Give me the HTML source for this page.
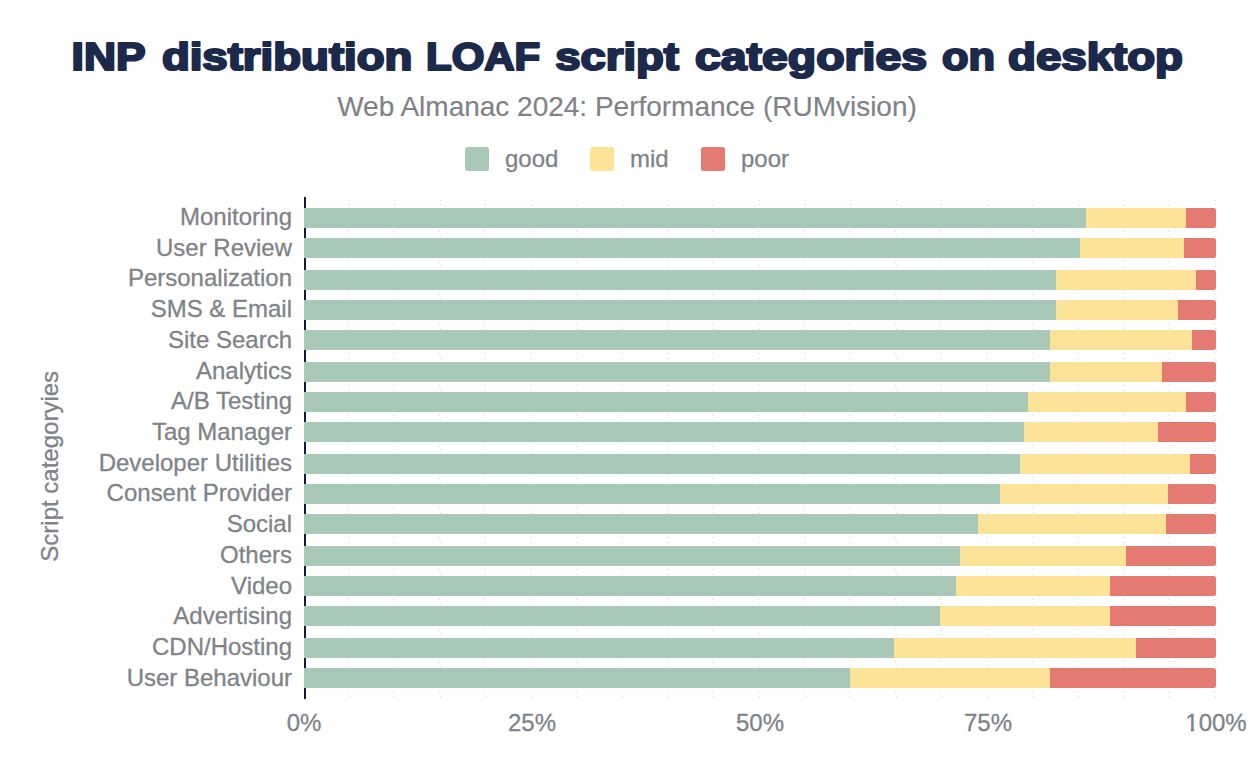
<!DOCTYPE html>
<html><head><meta charset="utf-8"><style>
html,body{margin:0;padding:0;background:#fff;}
body{width:1254px;height:774px;overflow:hidden;}
svg{display:block;font-family:"Liberation Sans",sans-serif;}
</style></head><body>
<svg width="1254" height="774" viewBox="0 0 1254 774">
<rect width="1254" height="774" fill="#fff"/>

<g font-size="38.5" font-weight="bold" fill="#1b2a4a" stroke="#1b2a4a" stroke-width="2.2" stroke-linejoin="round"><text x="71.60" y="70.4" textLength="73.90" lengthAdjust="spacingAndGlyphs">INP</text><text x="161.90" y="70.4" textLength="250.50" lengthAdjust="spacingAndGlyphs">distribution</text><text x="426.00" y="70.4" textLength="114.20" lengthAdjust="spacingAndGlyphs">LOAF</text><text x="555.20" y="70.4" textLength="123.80" lengthAdjust="spacingAndGlyphs">script</text><text x="695.00" y="70.4" textLength="232.00" lengthAdjust="spacingAndGlyphs">categories</text><text x="942.00" y="70.4" textLength="53.00" lengthAdjust="spacingAndGlyphs">on</text><text x="1008.00" y="70.4" textLength="175.00" lengthAdjust="spacingAndGlyphs">desktop</text></g>
<text transform="translate(627.00,115.60) scale(1,1.02)" text-anchor="middle" font-size="28" fill="#7f8387" stroke="#7f8387" stroke-width="0.15">Web Almanac 2024: Performance (RUMvision)</text>
<rect x="465" y="147" width="24" height="24" rx="2.5" fill="#a8c9b8"/>
<text transform="translate(505.00,167.00) scale(1,1.02)" text-anchor="start" font-size="24" fill="#7f8387" stroke="#7f8387" stroke-width="0.3">good</text>
<rect x="590" y="147" width="24" height="24" rx="2.5" fill="#fde398"/>
<text transform="translate(630.00,167.00) scale(1,1.02)" text-anchor="start" font-size="24" fill="#7f8387" stroke="#7f8387" stroke-width="0.3">mid</text>
<rect x="701" y="147" width="24" height="24" rx="2.5" fill="#e57a72"/>
<text transform="translate(741.00,167.00) scale(1,1.02)" text-anchor="start" font-size="24" fill="#7f8387" stroke="#7f8387" stroke-width="0.3">poor</text>
<path fill="#d6d7da" d="M349 200h1v1h-1zM349 204h1v1h-1zM348 231h1v1h-1zM349 236h1v1h-1zM348 261h1v1h-1zM349 266h1v1h-1zM348 293h1v1h-1zM349 298h1v1h-1zM348 323h1v1h-1zM349 328h1v1h-1zM348 353h1v1h-1zM349 358h1v1h-1zM348 385h1v1h-1zM349 390h1v1h-1zM348 415h1v1h-1zM349 420h1v1h-1zM348 445h1v1h-1zM349 450h1v1h-1zM348 477h1v1h-1zM349 482h1v1h-1zM348 507h1v1h-1zM349 512h1v1h-1zM348 537h1v1h-1zM349 542h1v1h-1zM348 569h1v1h-1zM349 574h1v1h-1zM348 599h1v1h-1zM349 604h1v1h-1zM348 629h1v1h-1zM349 634h1v1h-1zM348 661h1v1h-1zM349 666h1v1h-1zM348 691h1v1h-1zM349 696h1v1h-1zM394 200h1v1h-1zM394 204h1v1h-1zM393 231h1v1h-1zM394 236h1v1h-1zM393 261h1v1h-1zM394 266h1v1h-1zM393 293h1v1h-1zM394 298h1v1h-1zM393 323h1v1h-1zM394 328h1v1h-1zM393 353h1v1h-1zM394 358h1v1h-1zM393 385h1v1h-1zM394 390h1v1h-1zM393 415h1v1h-1zM394 420h1v1h-1zM393 445h1v1h-1zM394 450h1v1h-1zM393 477h1v1h-1zM394 482h1v1h-1zM393 507h1v1h-1zM394 512h1v1h-1zM393 537h1v1h-1zM394 542h1v1h-1zM393 569h1v1h-1zM394 574h1v1h-1zM393 599h1v1h-1zM394 604h1v1h-1zM393 629h1v1h-1zM394 634h1v1h-1zM393 661h1v1h-1zM394 666h1v1h-1zM393 691h1v1h-1zM394 696h1v1h-1zM440 200h1v1h-1zM440 204h1v1h-1zM439 231h1v1h-1zM440 236h1v1h-1zM439 261h1v1h-1zM440 266h1v1h-1zM439 293h1v1h-1zM440 298h1v1h-1zM439 323h1v1h-1zM440 328h1v1h-1zM439 353h1v1h-1zM440 358h1v1h-1zM439 385h1v1h-1zM440 390h1v1h-1zM439 415h1v1h-1zM440 420h1v1h-1zM439 445h1v1h-1zM440 450h1v1h-1zM439 477h1v1h-1zM440 482h1v1h-1zM439 507h1v1h-1zM440 512h1v1h-1zM439 537h1v1h-1zM440 542h1v1h-1zM439 569h1v1h-1zM440 574h1v1h-1zM439 599h1v1h-1zM440 604h1v1h-1zM439 629h1v1h-1zM440 634h1v1h-1zM439 661h1v1h-1zM440 666h1v1h-1zM439 691h1v1h-1zM440 696h1v1h-1zM485 200h1v1h-1zM485 204h1v1h-1zM484 231h1v1h-1zM485 236h1v1h-1zM484 261h1v1h-1zM485 266h1v1h-1zM484 293h1v1h-1zM485 298h1v1h-1zM484 323h1v1h-1zM485 328h1v1h-1zM484 353h1v1h-1zM485 358h1v1h-1zM484 385h1v1h-1zM485 390h1v1h-1zM484 415h1v1h-1zM485 420h1v1h-1zM484 445h1v1h-1zM485 450h1v1h-1zM484 477h1v1h-1zM485 482h1v1h-1zM484 507h1v1h-1zM485 512h1v1h-1zM484 537h1v1h-1zM485 542h1v1h-1zM484 569h1v1h-1zM485 574h1v1h-1zM484 599h1v1h-1zM485 604h1v1h-1zM484 629h1v1h-1zM485 634h1v1h-1zM484 661h1v1h-1zM485 666h1v1h-1zM484 691h1v1h-1zM485 696h1v1h-1zM531 200h1v1h-1zM531 204h1v1h-1zM530 231h1v1h-1zM531 236h1v1h-1zM530 261h1v1h-1zM531 266h1v1h-1zM530 293h1v1h-1zM531 298h1v1h-1zM530 323h1v1h-1zM531 328h1v1h-1zM530 353h1v1h-1zM531 358h1v1h-1zM530 385h1v1h-1zM531 390h1v1h-1zM530 415h1v1h-1zM531 420h1v1h-1zM530 445h1v1h-1zM531 450h1v1h-1zM530 477h1v1h-1zM531 482h1v1h-1zM530 507h1v1h-1zM531 512h1v1h-1zM530 537h1v1h-1zM531 542h1v1h-1zM530 569h1v1h-1zM531 574h1v1h-1zM530 599h1v1h-1zM531 604h1v1h-1zM530 629h1v1h-1zM531 634h1v1h-1zM530 661h1v1h-1zM531 666h1v1h-1zM530 691h1v1h-1zM531 696h1v1h-1zM577 200h1v1h-1zM577 204h1v1h-1zM576 231h1v1h-1zM577 236h1v1h-1zM576 261h1v1h-1zM577 266h1v1h-1zM576 293h1v1h-1zM577 298h1v1h-1zM576 323h1v1h-1zM577 328h1v1h-1zM576 353h1v1h-1zM577 358h1v1h-1zM576 385h1v1h-1zM577 390h1v1h-1zM576 415h1v1h-1zM577 420h1v1h-1zM576 445h1v1h-1zM577 450h1v1h-1zM576 477h1v1h-1zM577 482h1v1h-1zM576 507h1v1h-1zM577 512h1v1h-1zM576 537h1v1h-1zM577 542h1v1h-1zM576 569h1v1h-1zM577 574h1v1h-1zM576 599h1v1h-1zM577 604h1v1h-1zM576 629h1v1h-1zM577 634h1v1h-1zM576 661h1v1h-1zM577 666h1v1h-1zM576 691h1v1h-1zM577 696h1v1h-1zM622 200h1v1h-1zM622 204h1v1h-1zM621 231h1v1h-1zM622 236h1v1h-1zM621 261h1v1h-1zM622 266h1v1h-1zM621 293h1v1h-1zM622 298h1v1h-1zM621 323h1v1h-1zM622 328h1v1h-1zM621 353h1v1h-1zM622 358h1v1h-1zM621 385h1v1h-1zM622 390h1v1h-1zM621 415h1v1h-1zM622 420h1v1h-1zM621 445h1v1h-1zM622 450h1v1h-1zM621 477h1v1h-1zM622 482h1v1h-1zM621 507h1v1h-1zM622 512h1v1h-1zM621 537h1v1h-1zM622 542h1v1h-1zM621 569h1v1h-1zM622 574h1v1h-1zM621 599h1v1h-1zM622 604h1v1h-1zM621 629h1v1h-1zM622 634h1v1h-1zM621 661h1v1h-1zM622 666h1v1h-1zM621 691h1v1h-1zM622 696h1v1h-1zM668 200h1v1h-1zM668 204h1v1h-1zM667 231h1v1h-1zM668 236h1v1h-1zM667 261h1v1h-1zM668 266h1v1h-1zM667 293h1v1h-1zM668 298h1v1h-1zM667 323h1v1h-1zM668 328h1v1h-1zM667 353h1v1h-1zM668 358h1v1h-1zM667 385h1v1h-1zM668 390h1v1h-1zM667 415h1v1h-1zM668 420h1v1h-1zM667 445h1v1h-1zM668 450h1v1h-1zM667 477h1v1h-1zM668 482h1v1h-1zM667 507h1v1h-1zM668 512h1v1h-1zM667 537h1v1h-1zM668 542h1v1h-1zM667 569h1v1h-1zM668 574h1v1h-1zM667 599h1v1h-1zM668 604h1v1h-1zM667 629h1v1h-1zM668 634h1v1h-1zM667 661h1v1h-1zM668 666h1v1h-1zM667 691h1v1h-1zM668 696h1v1h-1zM713 200h1v1h-1zM713 204h1v1h-1zM712 231h1v1h-1zM713 236h1v1h-1zM712 261h1v1h-1zM713 266h1v1h-1zM712 293h1v1h-1zM713 298h1v1h-1zM712 323h1v1h-1zM713 328h1v1h-1zM712 353h1v1h-1zM713 358h1v1h-1zM712 385h1v1h-1zM713 390h1v1h-1zM712 415h1v1h-1zM713 420h1v1h-1zM712 445h1v1h-1zM713 450h1v1h-1zM712 477h1v1h-1zM713 482h1v1h-1zM712 507h1v1h-1zM713 512h1v1h-1zM712 537h1v1h-1zM713 542h1v1h-1zM712 569h1v1h-1zM713 574h1v1h-1zM712 599h1v1h-1zM713 604h1v1h-1zM712 629h1v1h-1zM713 634h1v1h-1zM712 661h1v1h-1zM713 666h1v1h-1zM712 691h1v1h-1zM713 696h1v1h-1zM759 200h1v1h-1zM759 204h1v1h-1zM758 231h1v1h-1zM759 236h1v1h-1zM758 261h1v1h-1zM759 266h1v1h-1zM758 293h1v1h-1zM759 298h1v1h-1zM758 323h1v1h-1zM759 328h1v1h-1zM758 353h1v1h-1zM759 358h1v1h-1zM758 385h1v1h-1zM759 390h1v1h-1zM758 415h1v1h-1zM759 420h1v1h-1zM758 445h1v1h-1zM759 450h1v1h-1zM758 477h1v1h-1zM759 482h1v1h-1zM758 507h1v1h-1zM759 512h1v1h-1zM758 537h1v1h-1zM759 542h1v1h-1zM758 569h1v1h-1zM759 574h1v1h-1zM758 599h1v1h-1zM759 604h1v1h-1zM758 629h1v1h-1zM759 634h1v1h-1zM758 661h1v1h-1zM759 666h1v1h-1zM758 691h1v1h-1zM759 696h1v1h-1zM805 200h1v1h-1zM805 204h1v1h-1zM804 231h1v1h-1zM805 236h1v1h-1zM804 261h1v1h-1zM805 266h1v1h-1zM804 293h1v1h-1zM805 298h1v1h-1zM804 323h1v1h-1zM805 328h1v1h-1zM804 353h1v1h-1zM805 358h1v1h-1zM804 385h1v1h-1zM805 390h1v1h-1zM804 415h1v1h-1zM805 420h1v1h-1zM804 445h1v1h-1zM805 450h1v1h-1zM804 477h1v1h-1zM805 482h1v1h-1zM804 507h1v1h-1zM805 512h1v1h-1zM804 537h1v1h-1zM805 542h1v1h-1zM804 569h1v1h-1zM805 574h1v1h-1zM804 599h1v1h-1zM805 604h1v1h-1zM804 629h1v1h-1zM805 634h1v1h-1zM804 661h1v1h-1zM805 666h1v1h-1zM804 691h1v1h-1zM805 696h1v1h-1zM850 200h1v1h-1zM850 204h1v1h-1zM849 231h1v1h-1zM850 236h1v1h-1zM849 261h1v1h-1zM850 266h1v1h-1zM849 293h1v1h-1zM850 298h1v1h-1zM849 323h1v1h-1zM850 328h1v1h-1zM849 353h1v1h-1zM850 358h1v1h-1zM849 385h1v1h-1zM850 390h1v1h-1zM849 415h1v1h-1zM850 420h1v1h-1zM849 445h1v1h-1zM850 450h1v1h-1zM849 477h1v1h-1zM850 482h1v1h-1zM849 507h1v1h-1zM850 512h1v1h-1zM849 537h1v1h-1zM850 542h1v1h-1zM849 569h1v1h-1zM850 574h1v1h-1zM849 599h1v1h-1zM850 604h1v1h-1zM849 629h1v1h-1zM850 634h1v1h-1zM849 661h1v1h-1zM850 666h1v1h-1zM849 691h1v1h-1zM850 696h1v1h-1zM896 200h1v1h-1zM896 204h1v1h-1zM895 231h1v1h-1zM896 236h1v1h-1zM895 261h1v1h-1zM896 266h1v1h-1zM895 293h1v1h-1zM896 298h1v1h-1zM895 323h1v1h-1zM896 328h1v1h-1zM895 353h1v1h-1zM896 358h1v1h-1zM895 385h1v1h-1zM896 390h1v1h-1zM895 415h1v1h-1zM896 420h1v1h-1zM895 445h1v1h-1zM896 450h1v1h-1zM895 477h1v1h-1zM896 482h1v1h-1zM895 507h1v1h-1zM896 512h1v1h-1zM895 537h1v1h-1zM896 542h1v1h-1zM895 569h1v1h-1zM896 574h1v1h-1zM895 599h1v1h-1zM896 604h1v1h-1zM895 629h1v1h-1zM896 634h1v1h-1zM895 661h1v1h-1zM896 666h1v1h-1zM895 691h1v1h-1zM896 696h1v1h-1zM941 200h1v1h-1zM941 204h1v1h-1zM940 231h1v1h-1zM941 236h1v1h-1zM940 261h1v1h-1zM941 266h1v1h-1zM940 293h1v1h-1zM941 298h1v1h-1zM940 323h1v1h-1zM941 328h1v1h-1zM940 353h1v1h-1zM941 358h1v1h-1zM940 385h1v1h-1zM941 390h1v1h-1zM940 415h1v1h-1zM941 420h1v1h-1zM940 445h1v1h-1zM941 450h1v1h-1zM940 477h1v1h-1zM941 482h1v1h-1zM940 507h1v1h-1zM941 512h1v1h-1zM940 537h1v1h-1zM941 542h1v1h-1zM940 569h1v1h-1zM941 574h1v1h-1zM940 599h1v1h-1zM941 604h1v1h-1zM940 629h1v1h-1zM941 634h1v1h-1zM940 661h1v1h-1zM941 666h1v1h-1zM940 691h1v1h-1zM941 696h1v1h-1zM987 200h1v1h-1zM987 204h1v1h-1zM986 231h1v1h-1zM987 236h1v1h-1zM986 261h1v1h-1zM987 266h1v1h-1zM986 293h1v1h-1zM987 298h1v1h-1zM986 323h1v1h-1zM987 328h1v1h-1zM986 353h1v1h-1zM987 358h1v1h-1zM986 385h1v1h-1zM987 390h1v1h-1zM986 415h1v1h-1zM987 420h1v1h-1zM986 445h1v1h-1zM987 450h1v1h-1zM986 477h1v1h-1zM987 482h1v1h-1zM986 507h1v1h-1zM987 512h1v1h-1zM986 537h1v1h-1zM987 542h1v1h-1zM986 569h1v1h-1zM987 574h1v1h-1zM986 599h1v1h-1zM987 604h1v1h-1zM986 629h1v1h-1zM987 634h1v1h-1zM986 661h1v1h-1zM987 666h1v1h-1zM986 691h1v1h-1zM987 696h1v1h-1zM1033 200h1v1h-1zM1033 204h1v1h-1zM1032 231h1v1h-1zM1033 236h1v1h-1zM1032 261h1v1h-1zM1033 266h1v1h-1zM1032 293h1v1h-1zM1033 298h1v1h-1zM1032 323h1v1h-1zM1033 328h1v1h-1zM1032 353h1v1h-1zM1033 358h1v1h-1zM1032 385h1v1h-1zM1033 390h1v1h-1zM1032 415h1v1h-1zM1033 420h1v1h-1zM1032 445h1v1h-1zM1033 450h1v1h-1zM1032 477h1v1h-1zM1033 482h1v1h-1zM1032 507h1v1h-1zM1033 512h1v1h-1zM1032 537h1v1h-1zM1033 542h1v1h-1zM1032 569h1v1h-1zM1033 574h1v1h-1zM1032 599h1v1h-1zM1033 604h1v1h-1zM1032 629h1v1h-1zM1033 634h1v1h-1zM1032 661h1v1h-1zM1033 666h1v1h-1zM1032 691h1v1h-1zM1033 696h1v1h-1zM1078 200h1v1h-1zM1078 204h1v1h-1zM1077 231h1v1h-1zM1078 236h1v1h-1zM1077 261h1v1h-1zM1078 266h1v1h-1zM1077 293h1v1h-1zM1078 298h1v1h-1zM1077 323h1v1h-1zM1078 328h1v1h-1zM1077 353h1v1h-1zM1078 358h1v1h-1zM1077 385h1v1h-1zM1078 390h1v1h-1zM1077 415h1v1h-1zM1078 420h1v1h-1zM1077 445h1v1h-1zM1078 450h1v1h-1zM1077 477h1v1h-1zM1078 482h1v1h-1zM1077 507h1v1h-1zM1078 512h1v1h-1zM1077 537h1v1h-1zM1078 542h1v1h-1zM1077 569h1v1h-1zM1078 574h1v1h-1zM1077 599h1v1h-1zM1078 604h1v1h-1zM1077 629h1v1h-1zM1078 634h1v1h-1zM1077 661h1v1h-1zM1078 666h1v1h-1zM1077 691h1v1h-1zM1078 696h1v1h-1zM1124 200h1v1h-1zM1124 204h1v1h-1zM1123 231h1v1h-1zM1124 236h1v1h-1zM1123 261h1v1h-1zM1124 266h1v1h-1zM1123 293h1v1h-1zM1124 298h1v1h-1zM1123 323h1v1h-1zM1124 328h1v1h-1zM1123 353h1v1h-1zM1124 358h1v1h-1zM1123 385h1v1h-1zM1124 390h1v1h-1zM1123 415h1v1h-1zM1124 420h1v1h-1zM1123 445h1v1h-1zM1124 450h1v1h-1zM1123 477h1v1h-1zM1124 482h1v1h-1zM1123 507h1v1h-1zM1124 512h1v1h-1zM1123 537h1v1h-1zM1124 542h1v1h-1zM1123 569h1v1h-1zM1124 574h1v1h-1zM1123 599h1v1h-1zM1124 604h1v1h-1zM1123 629h1v1h-1zM1124 634h1v1h-1zM1123 661h1v1h-1zM1124 666h1v1h-1zM1123 691h1v1h-1zM1124 696h1v1h-1zM1169 200h1v1h-1zM1169 204h1v1h-1zM1168 231h1v1h-1zM1169 236h1v1h-1zM1168 261h1v1h-1zM1169 266h1v1h-1zM1168 293h1v1h-1zM1169 298h1v1h-1zM1168 323h1v1h-1zM1169 328h1v1h-1zM1168 353h1v1h-1zM1169 358h1v1h-1zM1168 385h1v1h-1zM1169 390h1v1h-1zM1168 415h1v1h-1zM1169 420h1v1h-1zM1168 445h1v1h-1zM1169 450h1v1h-1zM1168 477h1v1h-1zM1169 482h1v1h-1zM1168 507h1v1h-1zM1169 512h1v1h-1zM1168 537h1v1h-1zM1169 542h1v1h-1zM1168 569h1v1h-1zM1169 574h1v1h-1zM1168 599h1v1h-1zM1169 604h1v1h-1zM1168 629h1v1h-1zM1169 634h1v1h-1zM1168 661h1v1h-1zM1169 666h1v1h-1zM1168 691h1v1h-1zM1169 696h1v1h-1zM1215 200h1v1h-1zM1215 204h1v1h-1zM1214 231h1v1h-1zM1215 236h1v1h-1zM1214 261h1v1h-1zM1215 266h1v1h-1zM1214 293h1v1h-1zM1215 298h1v1h-1zM1214 323h1v1h-1zM1215 328h1v1h-1zM1214 353h1v1h-1zM1215 358h1v1h-1zM1214 385h1v1h-1zM1215 390h1v1h-1zM1214 415h1v1h-1zM1215 420h1v1h-1zM1214 445h1v1h-1zM1215 450h1v1h-1zM1214 477h1v1h-1zM1215 482h1v1h-1zM1214 507h1v1h-1zM1215 512h1v1h-1zM1214 537h1v1h-1zM1215 542h1v1h-1zM1214 569h1v1h-1zM1215 574h1v1h-1zM1214 599h1v1h-1zM1215 604h1v1h-1zM1214 629h1v1h-1zM1215 634h1v1h-1zM1214 661h1v1h-1zM1215 666h1v1h-1zM1214 691h1v1h-1zM1215 696h1v1h-1z"/>
<rect x="304" y="197" width="2" height="502" fill="#0f1a33"/>
<rect x="304" y="208.00" width="782" height="20" fill="#a8c9b8"/>
<rect x="1086" y="208.00" width="100" height="20" fill="#fde398"/>
<path d="M1186 208.00 H1213.5 a2.5 2.5 0 0 1 2.5 2.5 V225.50 a2.5 2.5 0 0 1 -2.5 2.5 H1186 Z" fill="#e57a72"/>
<text transform="translate(292.00,224.90) scale(1,1.02)" text-anchor="end" font-size="24" fill="#7f8387" stroke="#7f8387" stroke-width="0.3">Monitoring</text>
<rect x="304" y="238.00" width="776" height="20" fill="#a8c9b8"/>
<rect x="1080" y="238.00" width="104" height="20" fill="#fde398"/>
<path d="M1184 238.00 H1213.5 a2.5 2.5 0 0 1 2.5 2.5 V255.50 a2.5 2.5 0 0 1 -2.5 2.5 H1184 Z" fill="#e57a72"/>
<text transform="translate(292.00,255.63) scale(1,1.02)" text-anchor="end" font-size="24" fill="#7f8387" stroke="#7f8387" stroke-width="0.3">User Review</text>
<rect x="304" y="270.00" width="752" height="20" fill="#a8c9b8"/>
<rect x="1056" y="270.00" width="140" height="20" fill="#fde398"/>
<path d="M1196 270.00 H1213.5 a2.5 2.5 0 0 1 2.5 2.5 V287.50 a2.5 2.5 0 0 1 -2.5 2.5 H1196 Z" fill="#e57a72"/>
<text transform="translate(292.00,286.35) scale(1,1.02)" text-anchor="end" font-size="24" fill="#7f8387" stroke="#7f8387" stroke-width="0.3">Personalization</text>
<rect x="304" y="300.00" width="752" height="20" fill="#a8c9b8"/>
<rect x="1056" y="300.00" width="122" height="20" fill="#fde398"/>
<path d="M1178 300.00 H1213.5 a2.5 2.5 0 0 1 2.5 2.5 V317.50 a2.5 2.5 0 0 1 -2.5 2.5 H1178 Z" fill="#e57a72"/>
<text transform="translate(292.00,317.08) scale(1,1.02)" text-anchor="end" font-size="24" fill="#7f8387" stroke="#7f8387" stroke-width="0.3">SMS &amp; Email</text>
<rect x="304" y="330.00" width="746" height="20" fill="#a8c9b8"/>
<rect x="1050" y="330.00" width="142" height="20" fill="#fde398"/>
<path d="M1192 330.00 H1213.5 a2.5 2.5 0 0 1 2.5 2.5 V347.50 a2.5 2.5 0 0 1 -2.5 2.5 H1192 Z" fill="#e57a72"/>
<text transform="translate(292.00,347.81) scale(1,1.02)" text-anchor="end" font-size="24" fill="#7f8387" stroke="#7f8387" stroke-width="0.3">Site Search</text>
<rect x="304" y="362.00" width="746" height="20" fill="#a8c9b8"/>
<rect x="1050" y="362.00" width="112" height="20" fill="#fde398"/>
<path d="M1162 362.00 H1213.5 a2.5 2.5 0 0 1 2.5 2.5 V379.50 a2.5 2.5 0 0 1 -2.5 2.5 H1162 Z" fill="#e57a72"/>
<text transform="translate(292.00,378.53) scale(1,1.02)" text-anchor="end" font-size="24" fill="#7f8387" stroke="#7f8387" stroke-width="0.3">Analytics</text>
<rect x="304" y="392.00" width="724" height="20" fill="#a8c9b8"/>
<rect x="1028" y="392.00" width="158" height="20" fill="#fde398"/>
<path d="M1186 392.00 H1213.5 a2.5 2.5 0 0 1 2.5 2.5 V409.50 a2.5 2.5 0 0 1 -2.5 2.5 H1186 Z" fill="#e57a72"/>
<text transform="translate(292.00,409.26) scale(1,1.02)" text-anchor="end" font-size="24" fill="#7f8387" stroke="#7f8387" stroke-width="0.3">A/B Testing</text>
<rect x="304" y="422.00" width="720" height="20" fill="#a8c9b8"/>
<rect x="1024" y="422.00" width="134" height="20" fill="#fde398"/>
<path d="M1158 422.00 H1213.5 a2.5 2.5 0 0 1 2.5 2.5 V439.50 a2.5 2.5 0 0 1 -2.5 2.5 H1158 Z" fill="#e57a72"/>
<text transform="translate(292.00,439.99) scale(1,1.02)" text-anchor="end" font-size="24" fill="#7f8387" stroke="#7f8387" stroke-width="0.3">Tag Manager</text>
<rect x="304" y="454.00" width="716" height="20" fill="#a8c9b8"/>
<rect x="1020" y="454.00" width="170" height="20" fill="#fde398"/>
<path d="M1190 454.00 H1213.5 a2.5 2.5 0 0 1 2.5 2.5 V471.50 a2.5 2.5 0 0 1 -2.5 2.5 H1190 Z" fill="#e57a72"/>
<text transform="translate(292.00,470.72) scale(1,1.02)" text-anchor="end" font-size="24" fill="#7f8387" stroke="#7f8387" stroke-width="0.3">Developer Utilities</text>
<rect x="304" y="484.00" width="696" height="20" fill="#a8c9b8"/>
<rect x="1000" y="484.00" width="168" height="20" fill="#fde398"/>
<path d="M1168 484.00 H1213.5 a2.5 2.5 0 0 1 2.5 2.5 V501.50 a2.5 2.5 0 0 1 -2.5 2.5 H1168 Z" fill="#e57a72"/>
<text transform="translate(292.00,501.44) scale(1,1.02)" text-anchor="end" font-size="24" fill="#7f8387" stroke="#7f8387" stroke-width="0.3">Consent Provider</text>
<rect x="304" y="514.00" width="674" height="20" fill="#a8c9b8"/>
<rect x="978" y="514.00" width="188" height="20" fill="#fde398"/>
<path d="M1166 514.00 H1213.5 a2.5 2.5 0 0 1 2.5 2.5 V531.50 a2.5 2.5 0 0 1 -2.5 2.5 H1166 Z" fill="#e57a72"/>
<text transform="translate(292.00,532.17) scale(1,1.02)" text-anchor="end" font-size="24" fill="#7f8387" stroke="#7f8387" stroke-width="0.3">Social</text>
<rect x="304" y="546.00" width="656" height="20" fill="#a8c9b8"/>
<rect x="960" y="546.00" width="166" height="20" fill="#fde398"/>
<path d="M1126 546.00 H1213.5 a2.5 2.5 0 0 1 2.5 2.5 V563.50 a2.5 2.5 0 0 1 -2.5 2.5 H1126 Z" fill="#e57a72"/>
<text transform="translate(292.00,562.90) scale(1,1.02)" text-anchor="end" font-size="24" fill="#7f8387" stroke="#7f8387" stroke-width="0.3">Others</text>
<rect x="304" y="576.00" width="652" height="20" fill="#a8c9b8"/>
<rect x="956" y="576.00" width="154" height="20" fill="#fde398"/>
<path d="M1110 576.00 H1213.5 a2.5 2.5 0 0 1 2.5 2.5 V593.50 a2.5 2.5 0 0 1 -2.5 2.5 H1110 Z" fill="#e57a72"/>
<text transform="translate(292.00,593.62) scale(1,1.02)" text-anchor="end" font-size="24" fill="#7f8387" stroke="#7f8387" stroke-width="0.3">Video</text>
<rect x="304" y="606.00" width="636" height="20" fill="#a8c9b8"/>
<rect x="940" y="606.00" width="170" height="20" fill="#fde398"/>
<path d="M1110 606.00 H1213.5 a2.5 2.5 0 0 1 2.5 2.5 V623.50 a2.5 2.5 0 0 1 -2.5 2.5 H1110 Z" fill="#e57a72"/>
<text transform="translate(292.00,624.35) scale(1,1.02)" text-anchor="end" font-size="24" fill="#7f8387" stroke="#7f8387" stroke-width="0.3">Advertising</text>
<rect x="304" y="638.00" width="590" height="20" fill="#a8c9b8"/>
<rect x="894" y="638.00" width="242" height="20" fill="#fde398"/>
<path d="M1136 638.00 H1213.5 a2.5 2.5 0 0 1 2.5 2.5 V655.50 a2.5 2.5 0 0 1 -2.5 2.5 H1136 Z" fill="#e57a72"/>
<text transform="translate(292.00,655.08) scale(1,1.02)" text-anchor="end" font-size="24" fill="#7f8387" stroke="#7f8387" stroke-width="0.3">CDN/Hosting</text>
<rect x="304" y="668.00" width="546" height="20" fill="#a8c9b8"/>
<rect x="850" y="668.00" width="200" height="20" fill="#fde398"/>
<path d="M1050 668.00 H1213.5 a2.5 2.5 0 0 1 2.5 2.5 V685.50 a2.5 2.5 0 0 1 -2.5 2.5 H1050 Z" fill="#e57a72"/>
<text transform="translate(292.00,685.81) scale(1,1.02)" text-anchor="end" font-size="24" fill="#7f8387" stroke="#7f8387" stroke-width="0.3">User Behaviour</text>
<text transform="translate(304.00,731.00) scale(1,1.02)" text-anchor="middle" font-size="24" fill="#7f8387" stroke="#7f8387" stroke-width="0.3">0%</text>
<text transform="translate(532.00,731.00) scale(1,1.02)" text-anchor="middle" font-size="24" fill="#7f8387" stroke="#7f8387" stroke-width="0.3">25%</text>
<text transform="translate(760.00,731.00) scale(1,1.02)" text-anchor="middle" font-size="24" fill="#7f8387" stroke="#7f8387" stroke-width="0.3">50%</text>
<text transform="translate(988.00,731.00) scale(1,1.02)" text-anchor="middle" font-size="24" fill="#7f8387" stroke="#7f8387" stroke-width="0.3">75%</text>
<text transform="translate(1216.00,731.00) scale(1,1.02)" text-anchor="middle" font-size="24" fill="#7f8387" stroke="#7f8387" stroke-width="0.3">100%</text>
<text transform="translate(57.6,466.3) rotate(-90) scale(1,1.02)" text-anchor="middle" font-size="24" fill="#7f8387" stroke="#7f8387" stroke-width="0.3">Script categoryies</text>
<rect x="1185.5" y="728.6" width="5.3" height="4" fill="#fff"/><rect x="1194.1" y="728.6" width="4.5" height="4" fill="#fff"/>
</svg>
</body></html>
